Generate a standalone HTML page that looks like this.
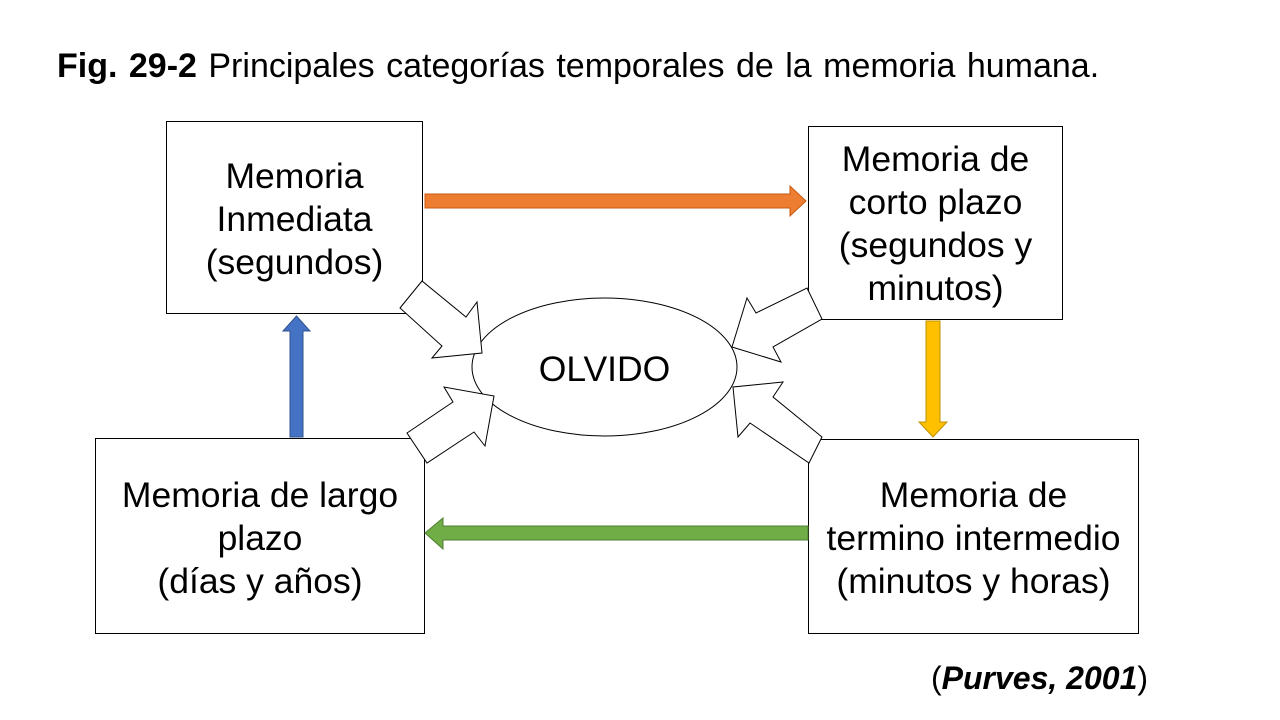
<!DOCTYPE html>
<html><head><meta charset="utf-8"><style>
body{margin:0;background:#fff;}
.wrap{position:relative;width:1280px;height:720px;overflow:hidden;font-family:"Liberation Sans",sans-serif;}
.t{position:absolute;color:#000;text-align:center;font-size:35.5px;line-height:43px;white-space:nowrap;}
</style></head><body><div class="wrap">
<svg width="1280" height="720" style="position:absolute;left:0;top:0">
<g fill="#fff" stroke="#000" stroke-width="1">
<rect x="166.5" y="121.5" width="256" height="192"/>
<rect x="808.5" y="126.5" width="254" height="193"/>
<rect x="95.5" y="438.5" width="329" height="195"/>
<rect x="808.5" y="439.5" width="330" height="194"/>
<ellipse cx="604.5" cy="367" rx="132.5" ry="69"/>
<polygon points="400,308 422,281 466,317 477,302 482,353 432,358 442,346"/>
<polygon points="407,433 453,402 444,387 494,396 485,446 474,432 427,463"/>
<polygon points="807,288 822,319 773,347 781,362 732,347 747,298 756,313"/>
<polygon points="822,437 809,463 750,423 738,437 733,387 783,382 773,397"/>
</g>
<polygon fill="#ed7d31" stroke="#c55a11" stroke-width="1" points="425,194 790,194 790,186 806,201 790,216 790,208 425,208"/>
<polygon fill="#ffc000" stroke="#bf9000" stroke-width="1" points="926,321 940,321 940,422 947,422 933,437 919,422 926,422"/>
<polygon fill="#4472c4" stroke="#2f528f" stroke-width="1" points="290,437 303,437 303,331 310,331 296.5,316 283,331 290,331"/>
<polygon fill="#70ad47" stroke="#507e32" stroke-width="1" points="808,526 443,526 443,518 425,533 443,549 443,540 808,540"/>
</svg>
<div style="position:absolute;left:57px;top:45px;font-size:34px;line-height:42px;white-space:nowrap;word-spacing:2px;"><b>Fig. 29-2</b> Principales categorías temporales de la memoria humana.</div>
<div class="t" style="left:166px;top:155px;width:257px;">Memoria<br>Inmediata<br>(segundos)</div>
<div class="t" style="left:808px;top:138px;width:255px;">Memoria de<br>corto plazo<br>(segundos y<br>minutos)</div>
<div class="t" style="left:95px;top:474px;width:330px;">Memoria de largo<br>plazo<br>(días y años)</div>
<div class="t" style="left:808px;top:474px;width:331px;">Memoria de<br>termino intermedio<br>(minutos y horas)</div>
<div class="t" style="left:472px;top:348px;width:265px;">OLVIDO</div>
<div style="position:absolute;left:931px;top:658px;font-size:32px;line-height:40px;white-space:nowrap;">(<b><i>Purves, 2001</i></b>)</div>
</div></body></html>
